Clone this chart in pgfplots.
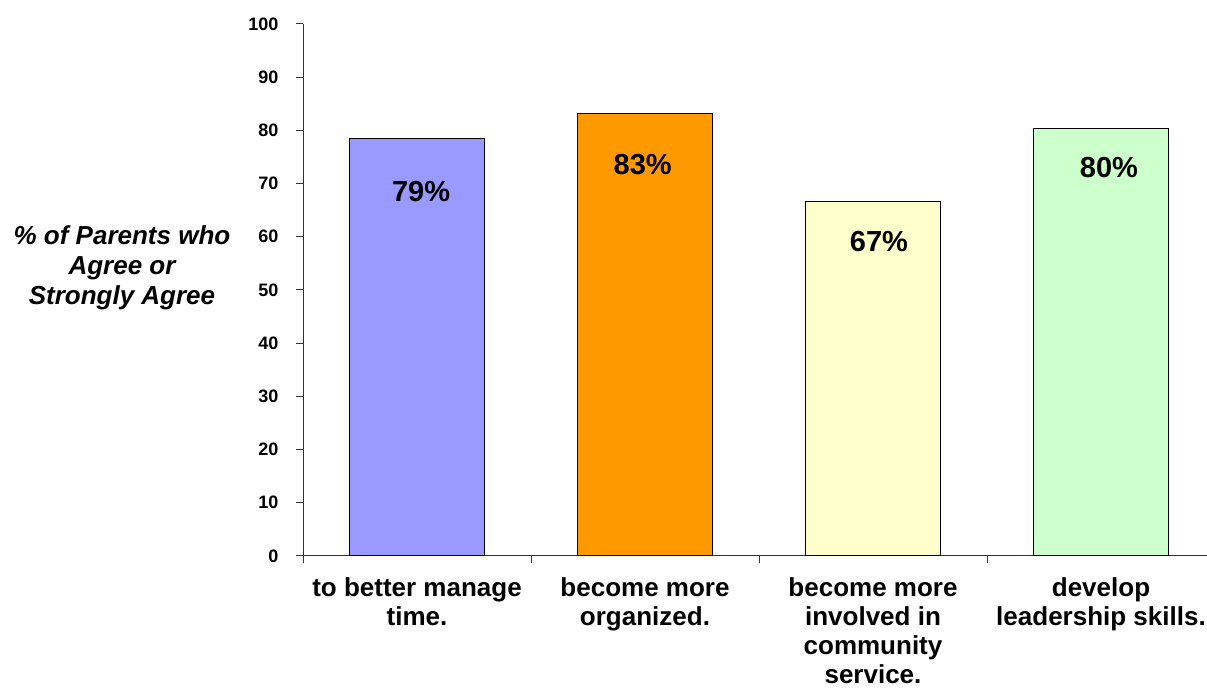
\documentclass[border=0pt]{standalone}
\usepackage{pgfplots}
\pgfplotsset{compat=1.18}
\usepackage{fontspec}
\setmainfont{Liberation Sans}
\definecolor{c1}{HTML}{9999FF}
\definecolor{c2}{HTML}{FF9900}
\definecolor{c3}{HTML}{FFFFCC}
\definecolor{c4}{HTML}{CCFFCC}
\begin{document}
\begin{tikzpicture}[x=1pt,y=1pt]
\useasboundingbox (0,0) rectangle (1207,688);
\begin{axis}[
  at={(303pt,132pt)}, anchor=south west,
  scale only axis, width=912pt, height=532pt,
  xmin=-0.5, xmax=3.5, ymin=0, ymax=100,
  axis x line*=bottom, axis y line*=left,
  axis line style={-, line width=1pt, black!80},
  tick style={line width=1pt, black!80},
  tick align=outside, major tick length=7pt,
  ytick={0,10,...,100},
  /pgf/number format/assume math mode=true,
  yticklabel style={font=\fontsize{18}{18}\selectfont\bfseries, xshift=-14pt},
  xtick={-0.5,0.5,1.5,2.5,3.5}, xticklabels={},
  extra x ticks={0,1,2,3},
  extra x tick labels={{to better manage\\time.},{become more\\organized.},{become more\\involved in\\community\\service.},{develop\\leadership skills.}},
  extra x tick style={major tick length=0pt,
    xticklabel style={align=center, font=\fontsize{26}{29.2}\selectfont\bfseries, yshift=-18pt}},
]
\addplot[ybar, bar width=135pt, bar shift=0pt, fill=c1, draw=black, line width=1pt] coordinates {(0,78.5)};
\addplot[ybar, bar width=135pt, bar shift=0pt, fill=c2, draw=black, line width=1pt] coordinates {(1,83.2)};
\addplot[ybar, bar width=135pt, bar shift=0pt, fill=c3, draw=black, line width=1pt] coordinates {(2,66.6)};
\addplot[ybar, bar width=135pt, bar shift=0pt, fill=c4, draw=black, line width=1pt] coordinates {(3,80.3)};
\node[font=\fontsize{29}{29}\selectfont\bfseries] at (axis cs:0.018,68.6) {79\%};
\node[font=\fontsize{29}{29}\selectfont\bfseries] at (axis cs:0.99,73.5) {83\%};
\node[font=\fontsize{29}{29}\selectfont\bfseries] at (axis cs:2.026,59.2) {67\%};
\node[font=\fontsize{29}{29}\selectfont\bfseries] at (axis cs:3.035,73.1) {80\%};
\end{axis}
\node[align=center, font=\fontsize{26}{30}\selectfont\bfseries\itshape] at (122,420) {\% of Parents who\\Agree or\\Strongly Agree};
\end{tikzpicture}
\end{document}
